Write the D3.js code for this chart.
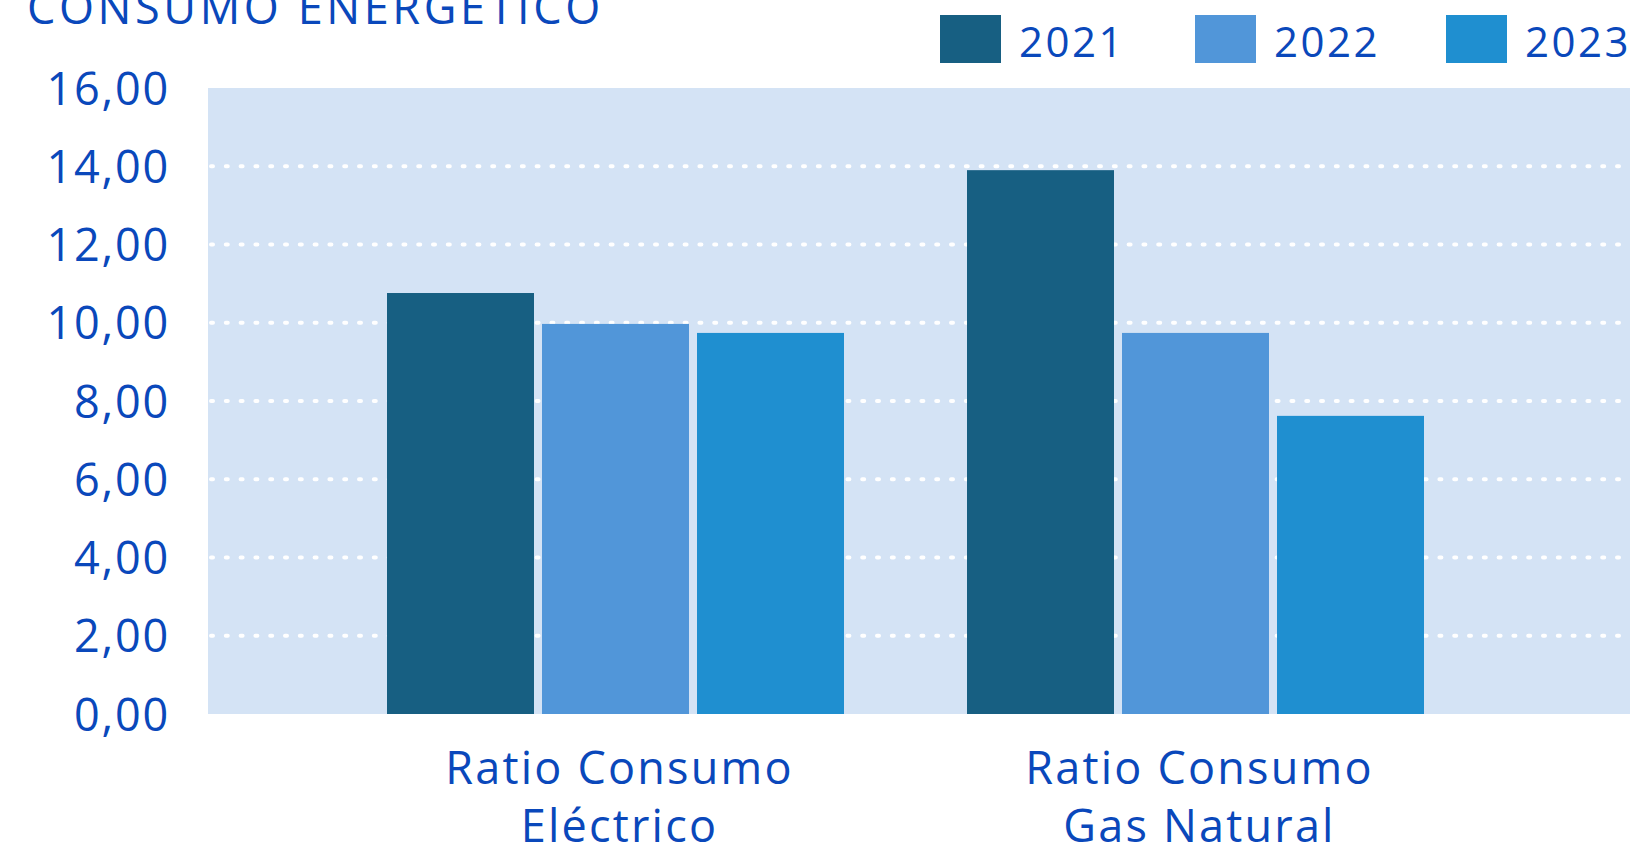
<!DOCTYPE html>
<html>
<head>
<meta charset="utf-8">
<script src="https://cdn.jsdelivr.net/npm/d3@7"></script>
<style>
  html, body { margin: 0; padding: 0; background: #ffffff; }
  svg { display: block; }
  text { font-family: "Open Sans", "Noto Sans", sans-serif; fill: #0a48bb; }
</style>
</head>
<body>
<svg id="chart" width="1646" height="847"></svg>
<script>
const title = "CONSUMO ENERGÉTICO";
const categories = [["Ratio Consumo", "Eléctrico"], ["Ratio Consumo", "Gas Natural"]];
const categoryKeys = ["elec", "gas"];
const years = ["2021", "2022", "2023"];
const values2021 = [10.76, 13.90];
const values2022 = [9.97, 9.74];
const values2023 = [9.74, 7.62];
const yTicks = [0, 2, 4, 6, 8, 10, 12, 14, 16];
const colors = ["#175f82", "#5196d9", "#1f8fd0"];

const seriesValues = [values2021, values2022, values2023];
const data = categoryKeys.map((k, i) => ({
  key: k,
  label: categories[i],
  vals: years.map((y, j) => ({ year: y, value: seriesValues[j][i], color: colors[j] }))
}));

const svg = d3.select("#chart");
const plot = { left: 208, right: 1630, top: 88, bottom: 714 };

const y = d3.scaleLinear().domain([0, 16]).range([plot.bottom, plot.top]);
const x0 = d3.scaleBand().domain(categoryKeys).range([325.5, 1485.5]).padding(0);
const groupWidth = 457;
const x1 = d3.scaleBand().domain(years).range([0, groupWidth]).paddingInner(0.0516).paddingOuter(0);

const locale = d3.formatLocale({ decimal: ",", thousands: ".", grouping: [3], currency: ["", "€"] });
const fmt = locale.format(".2f");

// plot background
svg.append("rect")
  .attr("x", plot.left).attr("y", plot.top)
  .attr("width", plot.right - plot.left).attr("height", plot.bottom - plot.top)
  .attr("fill", "#d4e3f5");

// gridlines
svg.append("g").selectAll("line")
  .data(yTicks.filter(t => t > 0 && t < 16))
  .join("line")
  .attr("x1", plot.left + 3).attr("x2", plot.right)
  .attr("y1", d => y(d)).attr("y2", d => y(d))
  .attr("stroke", "#ffffff")
  .attr("stroke-width", 4)
  .attr("stroke-linecap", "round")
  .attr("stroke-dasharray", "2 12.8");

// y axis
const yAxis = d3.axisLeft(y).tickValues(yTicks).tickFormat(fmt).tickSize(0).tickPadding(38);
const gy = svg.append("g").attr("transform", `translate(${plot.left},0)`).call(yAxis);
gy.select(".domain").remove();
gy.selectAll("text")
  .attr("font-family", "'Open Sans', sans-serif")
  .attr("font-size", 45)
  .attr("letter-spacing", 1.8)
  .attr("fill", "#0a48bb")
  .attr("dy", "0.36em");

// bars
const groups = svg.append("g").selectAll("g")
  .data(data).join("g")
  .attr("transform", d => `translate(${x0(d.key) + (x0.bandwidth() - groupWidth) / 2},0)`);
groups.selectAll("rect")
  .data(d => d.vals).join("rect")
  .attr("x", d => x1(d.year))
  .attr("width", x1.bandwidth())
  .attr("y", d => y(d.value))
  .attr("height", d => y(0) - y(d.value))
  .attr("fill", d => d.color);

// x labels
const xl = svg.append("g").selectAll("text")
  .data(data).join("text")
  .attr("text-anchor", "middle")
  .attr("font-size", 45)
  .attr("letter-spacing", 2.2)
  .attr("x", d => x0(d.key) + x0.bandwidth() / 2 + 4)
  .attr("y", 784);
xl.selectAll("tspan")
  .data(d => d.label).join("tspan")
  .attr("x", function () { return d3.select(this.parentNode).attr("x"); })
  .attr("dy", (d, i) => i === 0 ? 0 : 58)
  .text(d => d);

// title
svg.append("text")
  .attr("x", 27).attr("y", 24)
  .attr("font-size", 45)
  .attr("letter-spacing", 3.6)
  .text(title);

// legend
const legendX = [940, 1195, 1446];
const lg = svg.append("g").selectAll("g")
  .data(years).join("g")
  .attr("transform", (d, i) => `translate(${legendX[i]},15)`);
lg.append("rect").attr("width", 61).attr("height", 48).attr("fill", (d, i) => colors[i]);
lg.append("text").attr("x", 79).attr("y", 42).attr("font-size", 42).attr("letter-spacing", 2.5).text(d => d);
</script>
</body>
</html>
